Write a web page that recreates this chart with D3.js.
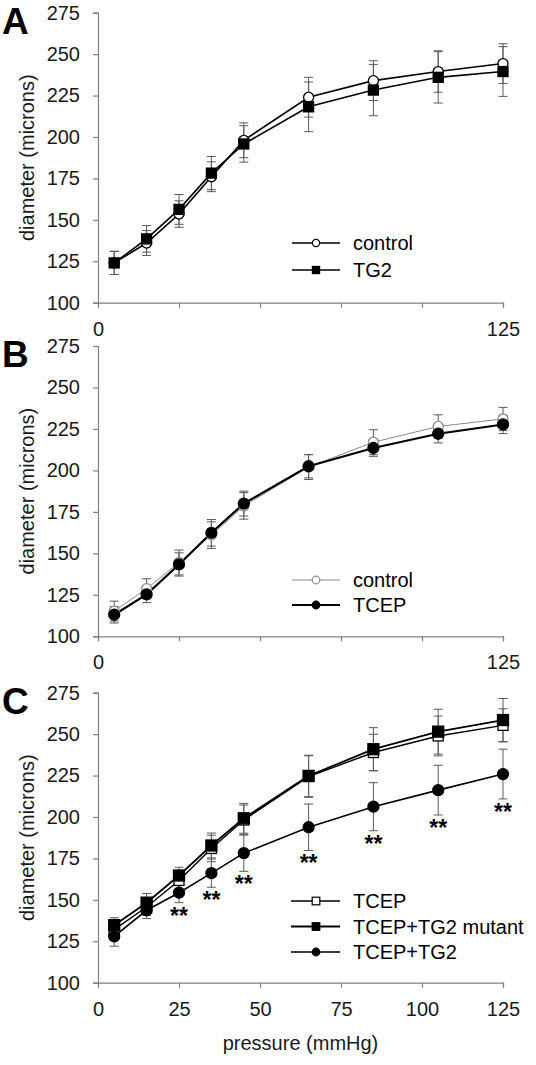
<!DOCTYPE html>
<html><head><meta charset="utf-8">
<script src="https://cdn.jsdelivr.net/npm/d3@7"></script>
<style>html,body{margin:0;padding:0;background:#fff;}svg{display:block;}</style>
</head><body>
<script>
const pressure = [5, 15, 25, 35, 45, 65, 85, 105, 125];
const yTicks = [100, 125, 150, 175, 200, 225, 250, 275];
const xTicks = [0, 25, 50, 75, 100, 125];
const xTicksShortLabels = [0, 125];

// Panel A
const aControl = [124, 136, 153.5, 176, 198, 224, 234, 239.5, 244.3];
const aControlErr = [7, 7.5, 8, 9, 10.5, 12, 12, 12.5, 12];
const aTG2 = [124, 138.5, 156.3, 178.2, 195.8, 218.2, 228.3, 236, 239.5];
const aTG2Err = [7, 8, 9, 10, 11, 15, 15.5, 15.5, 15];
// Panel B
const bControl = [115.2, 128.7, 144.5, 161, 178.6, 202, 217, 226.5, 231];
const bControlErr = [6, 6, 7.5, 8, 8, 7.5, 7.5, 7, 7];
const bTCEP = [113, 125.3, 143.3, 162.4, 180, 202.5, 213.5, 222.1, 227.7];
const bTCEPErr = [5, 5, 7, 8, 7.5, 7, 5, 5.5, 5.5];
// Panel C
const cTCEP = [132, 145.7, 161.7, 181, 198.2, 224.4, 238.9, 248.9, 255.3];
const cTCEPErr = [5, 5, 5, 8, 9, 12.5, 11, 12, 10];
const cMutant = [134.7, 148.3, 164.7, 182.8, 199.2, 224.8, 240.9, 251.5, 258.5];
const cMutantErr = [4.5, 5.5, 5, 7.5, 9, 12.5, 13, 13.5, 13];
const cTG2 = [128, 143.7, 154.3, 166.1, 178.2, 193.8, 206.2, 216.2, 225.9];
const cTG2Err = [6, 5, 6, 8.5, 11, 14, 14.5, 15, 15];
const cTG2Stars = [false, false, true, true, true, true, true, true, true];

const FONT = "'Liberation Sans', Arial, sans-serif";
const W = 536, H = 1065;
const svg = d3.select("body").append("svg").attr("width", W).attr("height", H)
  .style("font-family", FONT);

const x = d3.scaleLinear().domain([0, 125]).range([98, 503]);

const panels = [
  { letter: "A", top: 12.7, bottom: 302.7, allXLabels: false,
    series: [
      { name: "control", vals: aControl, err: aControlErr, shape: "circle", fill: "#fff", stroke: "#000", lw: 1.6, ms: 5 },
      { name: "TG2", vals: aTG2, err: aTG2Err, shape: "square", fill: "#000", stroke: "#000", lw: 1.6, ms: 5 }
    ],
    legend: { x1: 292, x2: 340, mx: 316, tx: 353, ys: [243, 270], ms: 3.6 } },
  { letter: "B", top: 346, bottom: 636.3, allXLabels: false,
    series: [
      { name: "control", vals: bControl, err: bControlErr, shape: "circle", fill: "#fff", stroke: "#8a8a8a", lw: 1, ms: 5 },
      { name: "TCEP", vals: bTCEP, err: bTCEPErr, shape: "circle", fill: "#000", stroke: "#000", lw: 2.2, ms: 5.5 }
    ],
    legend: { x1: 292, x2: 340, mx: 316, tx: 353, ys: [580, 605], ms: 3.8 } },
  { letter: "C", top: 692.7, bottom: 982.7, allXLabels: true,
    series: [
      { name: "TCEP", vals: cTCEP, err: cTCEPErr, shape: "square", fill: "#fff", stroke: "#000", lw: 1.4, ms: 5 },
      { name: "TCEP+TG2 mutant", vals: cMutant, err: cMutantErr, shape: "square", fill: "#000", stroke: "#000", lw: 1.8, ms: 5.5 },
      { name: "TCEP+TG2", vals: cTG2, err: cTG2Err, shape: "circle", fill: "#000", stroke: "#000", lw: 1.6, ms: 5.5, stars: cTG2Stars }
    ],
    legend: { x1: 291, x2: 340, mx: 316, tx: 353, ys: [901, 926.5, 952], ms: 3.8 } }
];

function drawMarker(g, shape, cx, cy, r, fill, stroke, sw) {
  if (shape === "circle") {
    g.append("circle").attr("cx", cx).attr("cy", cy).attr("r", r)
      .attr("fill", fill).attr("stroke", stroke).attr("stroke-width", sw);
  } else {
    g.append("rect").attr("x", cx - r).attr("y", cy - r).attr("width", 2 * r).attr("height", 2 * r)
      .attr("fill", fill).attr("stroke", stroke).attr("stroke-width", sw);
  }
}

panels.forEach(p => {
  const y = d3.scaleLinear().domain([100, 275]).range([p.bottom, p.top]);
  const g = svg.append("g");

  const yAxis = g.append("g").attr("transform", `translate(${x(0)},0)`)
    .call(d3.axisLeft(y).tickValues(yTicks).tickSize(5).tickPadding(13));
  const xAxis = g.append("g").attr("transform", `translate(0,${p.bottom})`)
    .call(d3.axisBottom(x).tickValues(xTicks).tickSize(5).tickPadding(14)
      .tickFormat(d => (p.allXLabels || xTicksShortLabels.includes(d)) ? d : ""));
  [yAxis, xAxis].forEach(a => {
    a.select(".domain").attr("stroke", "#808080").attr("stroke-width", 1.2);
    a.selectAll(".tick line").attr("stroke", "#808080").attr("stroke-width", 1.2);
    a.selectAll(".tick text").attr("fill", "#1a1a1a").style("font-size", "20px").style("font-family", FONT);
  });

  g.append("text").attr("transform", `translate(34,${(p.top + p.bottom) / 2}) rotate(-90)`)
    .attr("text-anchor", "middle").style("font-size", "20px").attr("fill", "#1a1a1a")
    .text("diameter (microns)");

  g.append("text").attr("x", 2).attr("y", p.top + 21).style("font-size", "37px")
    .style("font-weight", "bold").attr("fill", "#000").text(p.letter);

  p.series.forEach(s => {
    const eg = g.append("g").attr("stroke", "#5a5a5a").attr("stroke-width", 1);
    pressure.forEach((px, i) => {
      const xx = x(px), y1 = y(s.vals[i] + s.err[i]), y2 = y(s.vals[i] - s.err[i]);
      eg.append("line").attr("x1", xx).attr("x2", xx).attr("y1", y1).attr("y2", y2);
      eg.append("line").attr("x1", xx - 4.5).attr("x2", xx + 4.5).attr("y1", y1).attr("y2", y1);
      eg.append("line").attr("x1", xx - 4.5).attr("x2", xx + 4.5).attr("y1", y2).attr("y2", y2);
    });
  });

  const line = d3.line().x((d, i) => x(pressure[i])).y(d => y(d));
  p.series.forEach(s => {
    g.append("path").datum(s.vals).attr("d", line).attr("fill", "none")
      .attr("stroke", s.stroke).attr("stroke-width", s.lw);
  });
  p.series.forEach(s => {
    const mg = g.append("g");
    s.vals.forEach((v, i) => drawMarker(mg, s.shape, x(pressure[i]), y(v), s.ms, s.fill, s.stroke, 1.3));
    if (s.stars) {
      s.vals.forEach((v, i) => {
        if (!s.stars[i]) return;
        g.append("text").attr("x", x(pressure[i])).attr("y", y(v - s.err[i]) + 21)
          .attr("text-anchor", "middle").style("font-size", "23px").style("font-weight", "bold")
          .attr("fill", "#000").text("**");
      });
    }
  });

  const L = p.legend;
  p.series.forEach((s, k) => {
    const ly = L.ys[k];
    g.append("line").attr("x1", L.x1).attr("x2", L.x2).attr("y1", ly).attr("y2", ly)
      .attr("stroke", s.stroke).attr("stroke-width", s.lw);
    drawMarker(g, s.shape, L.mx, ly, L.ms, s.fill, s.stroke, 1.2);
    g.append("text").attr("x", L.tx).attr("y", ly).attr("dy", "0.35em")
      .style("font-size", "20px").attr("fill", "#000").text(s.name);
  });
});

svg.append("text").attr("x", (x(0) + x(125)) / 2).attr("y", 1050).attr("text-anchor", "middle")
  .style("font-size", "20px").attr("fill", "#1a1a1a").text("pressure (mmHg)");
</script>
</body></html>
